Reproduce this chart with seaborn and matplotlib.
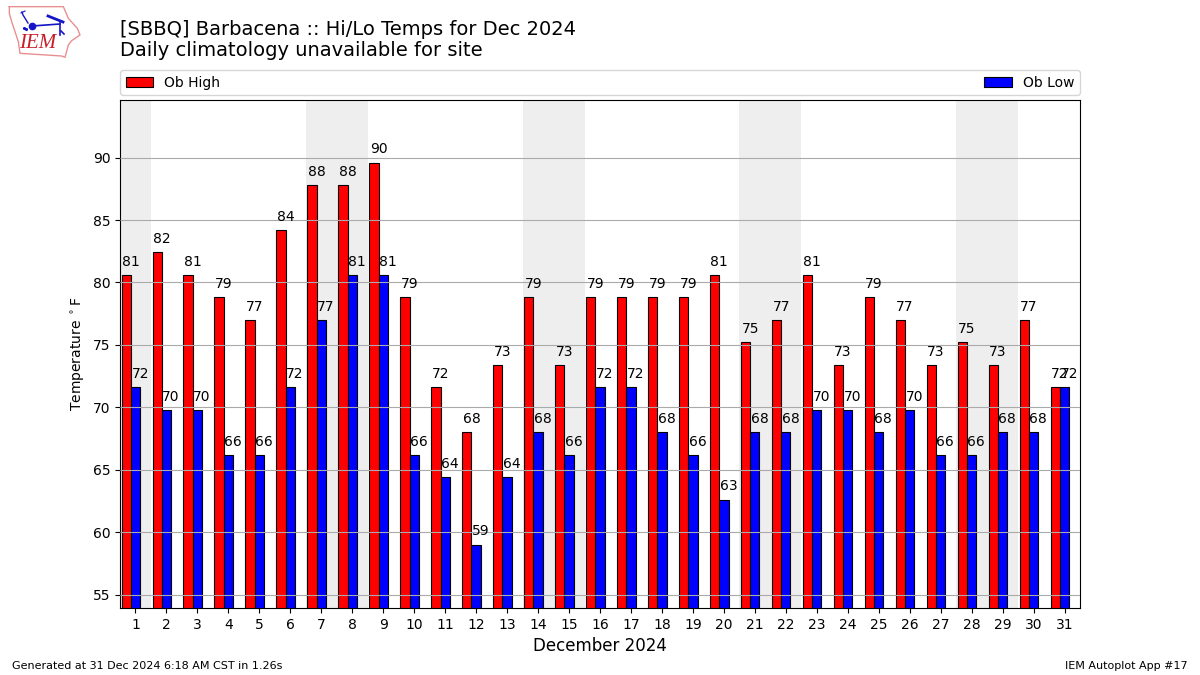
import matplotlib
matplotlib.use("Agg")
import matplotlib.pyplot as plt
import numpy as np
import pandas as pd
import seaborn as sns
from matplotlib.patches import Patch

days = list(range(1, 32))
highs = [80.6, 82.4, 80.6, 78.8, 77.0, 84.2, 87.8, 87.8, 89.6, 78.8, 71.6, 68.0, 73.4, 78.8, 73.4, 78.8,
         78.8, 78.8, 78.8, 80.6, 75.2, 77.0, 80.6, 73.4, 78.8, 77.0, 73.4, 75.2, 73.4, 77.0, 71.6]
lows = [71.6, 69.8, 69.8, 66.2, 66.2, 71.6, 77.0, 80.6, 80.6, 66.2, 64.4, 59.0, 64.4, 68.0, 66.2, 71.6,
        71.6, 68.0, 66.2, 62.6, 68.0, 68.0, 69.8, 69.8, 68.0, 69.8, 66.2, 66.2, 68.0, 68.0, 71.6]
weekend_spans = [(0.5, 1.5), (6.5, 8.5), (13.5, 15.5), (20.5, 22.5), (27.5, 29.5)]
series_names = ["Ob High", "Ob Low"]
series_colors = ["red", "blue"]

W, H = 1200, 675
fig = plt.figure(figsize=(12, 6.75), dpi=100)
ax = fig.add_axes([120 / W, 1 - 608 / H, 960 / W, 508 / H])

for a, b in weekend_spans:
    ax.axvspan(a, b, color="#EEEEEE", lw=0, zorder=0)

df = pd.DataFrame({
    "pos": [d - 0.15 for d in days] * 2,
    "temp": highs + lows,
    "series": [series_names[0]] * 31 + [series_names[1]] * 31,
})
sns.barplot(data=df, x="pos", y="temp", hue="series", hue_order=series_names,
            palette=series_colors, native_scale=True, width=0.6, gap=0, dodge=True,
            errorbar=None, saturation=1, edgecolor="black", linewidth=0.8,
            zorder=2, ax=ax, legend=False)

for d, hi, lo in zip(days, highs, lows):
    ax.text(d - 0.15, hi + 0.5, f"{hi:.0f}", ha="center", va="bottom", fontsize=10, zorder=4)
    ax.text(d + 0.15, lo + 0.5, f"{lo:.0f}", ha="center", va="bottom", fontsize=10, zorder=4)

ax.set_xlim(0.5, 31.5)
ax.set_ylim(53.93, 94.61)
ax.set_xticks(days)
ax.set_xticklabels([str(d) for d in days])
ax.set_yticks(range(55, 95, 5))
ax.yaxis.grid(True, color="#AAAAAA", linewidth=0.8, zorder=3)
ax.xaxis.grid(False)
ax.set_axisbelow(False)
ax.tick_params(labelsize=10)
ax.set_xlabel("December 2024", fontsize=12)
ax.set_ylabel("Temperature $^\\circ$F", fontsize=10)

handles = [Patch(facecolor=c, edgecolor="black", linewidth=0.8, label=n)
           for c, n in zip(series_colors, series_names)]
ax.legend(handles=handles, ncol=2, mode="expand", loc="lower left",
          bbox_to_anchor=(0, 1.0095, 1, 0.05), borderaxespad=0, fontsize=10)

fig.text(120 / W, 1 - 60.4 / H, "[SBBQ] Barbacena :: Hi/Lo Temps for Dec 2024\nDaily climatology unavailable for site",
         fontsize=14, ha="left", va="bottom", linespacing=1.15)
fig.text(12 / W, 1 - 666 / H, "Generated at 31 Dec 2024 6:18 AM CST in 1.26s", fontsize=8, ha="left", va="center")
fig.text(1188 / W, 1 - 666 / H, "IEM Autoplot App #17", fontsize=8, ha="right", va="center")

# IEM logo, sketched in pixel space
logo = fig.add_axes([0, 1 - 65 / H, 120 / W, 65 / H])
logo.set_xlim(0, 120)
logo.set_ylim(65, 0)
logo.axis("off")
outline = np.array([(28, 20), (190, 20), (205, 55), (232, 85), (240, 105), (215, 122), (205, 135),
                    (195, 172), (185, 168), (60, 160), (55, 125), (35, 65), (28, 40), (28, 20)]) / 3
logo.plot(outline[:, 0], outline[:, 1], color="#E89090", lw=1)
blue = "#1515C8"
logo.plot([32, 60], [26, 24], color=blue, lw=1.2)
logo.plot([48, 63], [16, 22], color=blue, lw=2)
logo.plot([60, 60], [23, 35], color=blue, lw=1.2)
logo.plot([61, 64], [31, 34], color=blue, lw=1.2)
logo.plot([22, 23, 28], [12, 15, 23], color=blue, lw=1)
logo.plot([21, 25], [13, 11], color=blue, lw=0.8)
logo.plot([32], [26], "o", color=blue, ms=4.5)
logo.plot([24, 26], [28, 29], ".", color=blue, ms=2.5)
logo.text(37.5, 44, "IEM", family="Liberation Serif", style="italic", color="#C81E28",
          fontsize=15, ha="center", va="center")

fig.savefig("out.png", dpi=100)
